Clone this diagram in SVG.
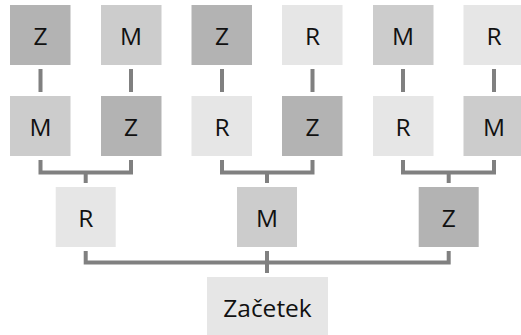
<svg xmlns="http://www.w3.org/2000/svg" width="521" height="335" viewBox="0 0 521 335">
  <style>
    .z { fill: #b3b3b3; }
    .m { fill: #cccccc; }
    .r { fill: #e6e6e6; }
    text { font-family: "Open Sans", "Noto Sans", "DejaVu Sans", sans-serif; font-size: 24.5px; fill: #111111; text-anchor: middle; }
    .links path { fill: none; stroke: #808080; stroke-width: 4; }
  </style>

  <!-- connectors -->
  <g class="links">
    <path d="M40.5 69V92M131 69V92M222 69V92M312.5 69V92M403 69V92M494 69V92"/>
    <path d="M40.5 160V172.5H131V160M85.7 172.5V183"/>
    <path d="M222 160V172.5H312.5V160M267 172.5V183"/>
    <path d="M403 160V172.5H494V160M448.7 172.5V183"/>
    <path d="M85.7 251V262.5H448.7V251M267 251V273"/>
  </g>

  <!-- top row -->
  <g id="n1"><rect class="z" x="10" y="5" width="60.5" height="60"/><text x="40.5" y="45">Z</text></g>
  <g id="n2"><rect class="m" x="101" y="5" width="60.5" height="60"/><text x="131" y="45">M</text></g>
  <g id="n3"><rect class="z" x="191.5" y="5" width="60.5" height="60"/><text x="222" y="45">Z</text></g>
  <g id="n4"><rect class="r" x="282" y="5" width="60.5" height="60"/><text x="312.5" y="45">R</text></g>
  <g id="n5"><rect class="m" x="373" y="5" width="60.5" height="60"/><text x="403" y="45">M</text></g>
  <g id="n6"><rect class="r" x="463.5" y="5" width="60.5" height="60"/><text x="494" y="45">R</text></g>

  <!-- second row -->
  <g id="n7"><rect class="m" x="10" y="96" width="60.5" height="60"/><text x="40.5" y="136">M</text></g>
  <g id="n8"><rect class="z" x="101" y="96" width="60.5" height="60"/><text x="131" y="136">Z</text></g>
  <g id="n9"><rect class="r" x="191.5" y="96" width="60.5" height="60"/><text x="222" y="136">R</text></g>
  <g id="n10"><rect class="z" x="282" y="96" width="60.5" height="60"/><text x="312.5" y="136">Z</text></g>
  <g id="n11"><rect class="r" x="373" y="96" width="60.5" height="60"/><text x="403" y="136">R</text></g>
  <g id="n12"><rect class="m" x="463.5" y="96" width="60.5" height="60"/><text x="494" y="136">M</text></g>

  <!-- third row -->
  <g id="n13"><rect class="r" x="55.7" y="187" width="60" height="60"/><text x="85.7" y="227">R</text></g>
  <g id="n14"><rect class="m" x="237" y="187" width="60" height="60"/><text x="267" y="227">M</text></g>
  <g id="n15"><rect class="z" x="418.7" y="187" width="60" height="60"/><text x="448.7" y="227">Z</text></g>

  <!-- root -->
  <g id="start"><rect class="r" x="207" y="277" width="121" height="60"/><text x="267.5" y="317">Začetek</text></g>
</svg>
